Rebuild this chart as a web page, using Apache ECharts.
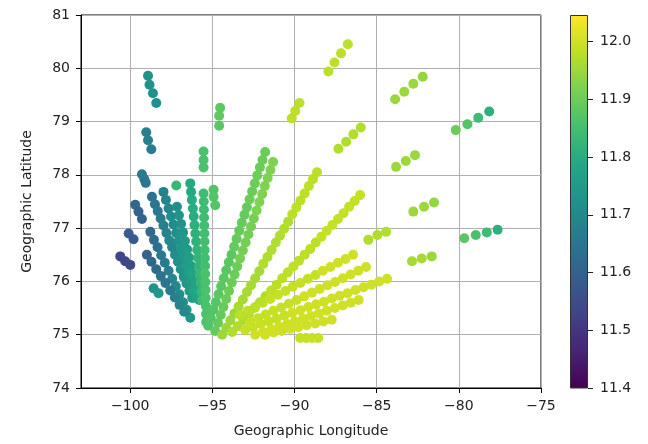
<!DOCTYPE html>
<html><head><meta charset="utf-8">
<script src="https://cdn.jsdelivr.net/npm/echarts@6/dist/echarts.min.js"></script>
<style>html,body{margin:0;padding:0;background:#fff}#c{width:648px;height:444px}</style>
</head><body><div id="c"></div>
<script>
// [longitude, latitude, value]
const beamA = [[-98.68,77.59,11.64],[-98.50,77.45,11.65],[-98.33,77.32,11.66],[-98.15,77.18,11.67],[-97.98,77.05,11.68],[-97.80,76.91,11.69],[-97.63,76.77,11.70],[-97.45,76.64,11.70],[-97.28,76.50,11.71],[-97.10,76.37,11.72],[-96.93,76.23,11.73],[-96.75,76.09,11.73],[-96.58,75.96,11.74],[-96.40,75.82,11.75],[-96.23,75.69,11.75]];
const beamB = [[-97.98,77.68,11.68],[-97.83,77.53,11.69],[-97.67,77.37,11.70],[-97.52,77.22,11.71],[-97.37,77.07,11.71],[-97.21,76.91,11.72],[-97.06,76.76,11.73],[-96.91,76.61,11.74],[-96.76,76.46,11.74],[-96.60,76.30,11.75],[-96.45,76.15,11.76],[-96.30,76.00,11.76],[-96.14,75.84,11.77],[-95.99,75.69,11.77]];
const beamC = [[-97.16,77.40,11.72],[-97.04,77.24,11.73],[-96.91,77.08,11.73],[-96.79,76.92,11.74],[-96.67,76.76,11.75],[-96.54,76.60,11.75],[-96.42,76.45,11.76],[-96.29,76.29,11.76],[-96.17,76.13,11.77],[-96.05,75.97,11.77],[-95.92,75.81,11.78],[-95.80,75.65,11.78]];
const beamD = [[-96.35,77.84,11.79],[-96.30,77.68,11.79],[-96.25,77.53,11.80],[-96.19,77.37,11.80],[-96.14,77.22,11.80],[-96.09,77.06,11.81],[-96.04,76.90,11.81],[-95.99,76.75,11.81],[-95.93,76.59,11.82],[-95.88,76.44,11.82],[-95.83,76.28,11.82],[-95.78,76.12,11.83],[-95.72,75.97,11.83],[-95.67,75.81,11.83],[-95.62,75.65,11.84]];
const beamE = [[-95.54,77.65,11.84],[-95.53,77.50,11.84],[-95.52,77.35,11.84],[-95.51,77.20,11.84],[-95.50,77.05,11.85],[-95.49,76.90,11.85],[-95.48,76.75,11.85],[-95.47,76.59,11.85],[-95.46,76.44,11.85],[-95.45,76.29,11.85],[-95.44,76.14,11.86],[-95.43,75.99,11.86],[-95.42,75.84,11.86],[-95.41,75.69,11.86],[-95.40,75.54,11.86],[-95.39,75.39,11.86],[-95.38,75.24,11.86]];
const beamF = [[-94.93,77.72,11.87],[-94.93,77.59,11.87],[-94.83,77.43,11.87]];
const beamG = [[-98.78,76.93,11.62],[-98.56,76.78,11.63],[-98.34,76.64,11.64],[-98.12,76.49,11.66],[-97.90,76.35,11.67],[-97.67,76.20,11.68],[-97.45,76.05,11.69],[-97.23,75.91,11.70],[-97.01,75.76,11.71],[-96.79,75.61,11.72],[-96.57,75.47,11.73],[-96.35,75.32,11.74]];
const beamH = [[-98.99,76.50,11.60],[-98.71,76.37,11.61],[-98.42,76.23,11.62],[-98.14,76.10,11.64],[-97.86,75.97,11.65],[-97.57,75.83,11.66],[-97.29,75.70,11.68],[-97.00,75.56,11.69],[-96.72,75.43,11.70]];
const beamR1a = [[-95.26,75.17,11.87],[-95.10,75.32,11.87],[-94.94,75.47,11.87],[-94.79,75.61,11.87],[-94.63,75.76,11.88],[-94.47,75.91,11.88],[-94.31,76.06,11.88],[-94.16,76.21,11.88],[-94.00,76.36,11.88],[-93.84,76.50,11.88],[-93.68,76.65,11.89],[-93.53,76.80,11.89],[-93.37,76.95,11.89],[-93.21,77.10,11.89],[-93.05,77.25,11.89],[-92.90,77.39,11.89],[-92.74,77.54,11.90],[-92.58,77.69,11.90],[-92.42,77.84,11.90],[-92.27,77.99,11.90],[-92.11,78.14,11.90],[-91.95,78.28,11.90],[-91.79,78.43,11.90]];
const beamR1b = [[-94.83,75.07,11.89],[-94.66,75.22,11.89],[-94.49,75.37,11.89],[-94.33,75.52,11.89],[-94.16,75.67,11.90],[-93.99,75.82,11.90],[-93.82,75.98,11.90],[-93.65,76.13,11.90],[-93.49,76.28,11.90],[-93.32,76.43,11.91],[-93.15,76.58,11.91],[-92.98,76.73,11.91],[-92.81,76.88,11.91],[-92.65,77.03,11.91],[-92.48,77.18,11.91],[-92.31,77.33,11.92],[-92.14,77.49,11.92],[-91.97,77.64,11.92],[-91.81,77.79,11.92],[-91.64,77.94,11.92],[-91.47,78.09,11.92],[-91.31,78.24,11.92]];
const beamR2 = [[-94.41,75.00,11.95],[-94.16,75.13,11.95],[-93.91,75.27,11.95],[-93.66,75.40,11.95],[-93.41,75.53,11.96],[-93.15,75.66,11.96],[-92.90,75.80,11.96],[-92.65,75.93,11.96],[-92.40,76.06,11.96],[-92.15,76.19,11.96],[-91.90,76.33,11.97],[-91.65,76.46,11.97],[-91.40,76.59,11.97],[-91.14,76.73,11.97],[-90.89,76.86,11.97],[-90.64,76.99,11.97],[-90.39,77.12,11.97],[-90.14,77.26,11.98],[-89.89,77.39,11.98],[-89.64,77.52,11.98],[-89.39,77.65,11.98],[-89.13,77.79,11.98],[-88.88,77.92,11.98],[-88.63,78.05,11.98]];
const beamR3 = [[-93.80,75.05,11.97],[-93.46,75.16,11.97],[-93.12,75.27,11.97],[-92.78,75.39,11.97],[-92.44,75.50,11.97],[-92.11,75.61,11.97],[-91.77,75.72,11.97],[-91.43,75.83,11.98],[-91.09,75.94,11.98],[-90.75,76.06,11.98],[-90.41,76.17,11.98],[-90.07,76.28,11.98],[-89.73,76.39,11.98],[-89.39,76.50,11.98],[-89.05,76.61,11.98],[-88.71,76.73,11.98],[-88.37,76.84,11.99],[-88.04,76.95,11.99],[-87.70,77.06,11.99],[-87.36,77.17,11.99],[-87.02,77.28,11.99],[-86.68,77.40,11.99],[-86.34,77.51,11.99],[-86.01,77.62,11.99]];
const beamR4 = [[-93.31,75.37,11.98],[-92.85,75.45,11.98],[-92.39,75.52,11.98],[-91.94,75.60,11.98],[-91.48,75.67,11.99],[-91.02,75.75,11.99],[-90.56,75.82,11.99],[-90.11,75.90,11.99],[-89.65,75.97,11.99],[-89.19,76.05,11.99],[-88.73,76.12,11.99],[-88.28,76.20,12.00],[-87.82,76.27,12.00],[-87.36,76.35,12.00],[-86.90,76.42,12.00],[-86.44,76.50,12.00]];
const beamR5 = [[-92.70,75.24,11.99],[-92.23,75.31,11.99],[-91.76,75.38,11.99],[-91.29,75.45,11.99],[-90.82,75.51,11.99],[-90.35,75.58,11.99],[-89.88,75.65,11.99],[-89.41,75.72,12.00],[-88.94,75.79,12.00],[-88.47,75.86,12.00],[-88.00,75.93,12.00],[-87.53,75.99,12.00],[-87.06,76.06,12.00],[-86.59,76.13,12.00],[-86.12,76.20,12.00],[-85.65,76.27,12.00]];
const beamR6 = [[-93.01,75.09,11.99],[-92.53,75.14,11.99],[-92.05,75.20,11.99],[-91.57,75.25,11.99],[-91.09,75.30,11.99],[-90.61,75.36,11.99],[-90.13,75.41,12.00],[-89.65,75.46,12.00],[-89.17,75.52,12.00],[-88.69,75.57,12.00],[-88.21,75.62,12.00],[-87.73,75.68,12.00],[-87.25,75.73,12.00],[-86.77,75.78,12.00],[-86.29,75.84,12.00],[-85.81,75.89,12.00],[-85.33,75.94,12.00],[-84.85,76.00,12.00],[-84.37,76.05,12.00]];
const beamR7 = [[-92.40,75.00,12.00],[-91.92,75.05,12.00],[-91.43,75.10,12.00],[-90.95,75.15,12.00],[-90.46,75.20,12.00],[-89.98,75.25,12.00],[-89.49,75.30,12.00],[-89.01,75.35,12.00],[-88.52,75.40,12.00],[-88.04,75.45,12.00],[-87.55,75.50,12.00],[-87.07,75.55,12.00],[-86.58,75.60,12.00],[-86.10,75.65,12.00]];
const beamR8 = [[-91.79,75.00,12.00],[-91.28,75.04,12.00],[-90.78,75.07,12.00],[-90.27,75.11,12.00],[-89.77,75.14,12.00],[-89.26,75.18,12.00],[-88.75,75.21,12.00],[-88.25,75.25,12.00],[-87.74,75.28,12.00]];
const beamR9 = [[-89.66,74.94,11.99],[-89.29,74.94,11.99],[-88.93,74.94,11.99],[-88.56,74.94,11.99]];
const groupsFar = [
  [-87.94,79.94,11.98],[-87.57,80.11,11.98],[-87.17,80.28,11.98],[-86.76,80.45,11.98],
  [-83.88,79.42,11.95],[-83.32,79.56,11.95],[-82.77,79.71,11.95],[-82.20,79.84,11.94],
  [-80.19,78.84,11.90],[-79.48,78.95,11.87],[-78.82,79.07,11.84],[-78.15,79.19,11.81],
  [-87.33,78.49,11.97],[-86.86,78.62,11.97],[-86.42,78.76,11.97],[-85.97,78.89,11.97],
  [-83.82,78.15,11.95],[-83.23,78.26,11.95],[-82.67,78.37,11.95],
  [-90.17,79.06,11.98],[-89.96,79.20,11.98],[-89.70,79.35,11.98],
  [-82.77,77.31,11.95],[-82.12,77.40,11.95],[-81.51,77.48,11.94],
  [-79.67,76.81,11.88],[-78.97,76.87,11.86],[-78.30,76.92,11.84],[-77.64,76.97,11.81],
  [-82.85,76.38,11.96],[-82.26,76.43,11.96],[-81.65,76.47,11.95],
  [-85.51,76.78,11.97],[-84.96,76.87,11.97],[-84.43,76.93,11.97]
];
const groupsLeft = [
  [-98.92,79.86,11.73],[-98.83,79.69,11.73],[-98.62,79.53,11.72],[-98.42,79.35,11.72],
  [-99.03,78.80,11.68],[-98.92,78.65,11.68],[-98.72,78.48,11.67],
  [-99.29,78.01,11.66],[-99.15,77.92,11.66],[-99.06,77.85,11.65],
  [-99.70,77.44,11.62],[-99.50,77.31,11.61],[-99.29,77.17,11.61],
  [-100.10,76.90,11.59],[-99.80,76.79,11.58],
  [-100.61,76.47,11.53],[-100.31,76.38,11.53],[-100.00,76.31,11.54],
  [-94.53,79.26,11.885],[-94.59,79.11,11.885],[-94.59,78.92,11.88],
  [-95.54,78.44,11.86],[-95.54,78.28,11.86],[-95.54,78.14,11.86],
  [-97.20,77.80,11.83],
  [-98.58,75.87,11.73],[-98.28,75.78,11.74]
];
const xTicks = [-100,-95,-90,-85,-80,-75];
const cbTicks = [11.4,11.5,11.6,11.7,11.8,11.9,12.0];
const cMin = 11.4, cMax = 12.046;
const viridis = ['#440154','#482475','#414487','#355f8d','#2a788e','#21918c','#22a884','#44bf70','#7ad151','#bddf26','#fde725'];

const allPoints = [].concat(beamA,beamB,beamC,beamD,beamE,beamF,beamG,beamH,beamR1a,beamR1b,beamR2,beamR3,beamR4,beamR5,beamR6,beamR7,beamR8,beamR9,groupsFar,groupsLeft);

const font = 'DejaVu Sans';
const minus = v => String(v).replace('-', '\u2212');
const chart = echarts.init(document.getElementById('c'), null, {renderer:'canvas'});
chart.setOption({
  animation:false,
  textStyle:{fontFamily:font},
  grid:[
    {left:81, right:107, top:15, bottom:56, show:true, borderColor:'#000', borderWidth:1, backgroundColor:'transparent'},
    {left:570, width:18, top:15, bottom:56}
  ],
  visualMap:{type:'continuous', show:false, seriesIndex:0, dimension:2, min:cMin, max:cMax, inRange:{color:viridis}},
  xAxis:[
    {type:'value', gridIndex:0, min:-103, max:-75,
     name:'Geographic Longitude', nameLocation:'middle', nameGap:36,
     nameTextStyle:{fontFamily:font, fontSize:14, color:'#222'},
     axisLine:{show:true, onZero:false, lineStyle:{color:'#000', width:1}},
     axisTick:{show:true, length:5, customValues:xTicks, lineStyle:{color:'#000'}},
     axisLabel:{customValues:xTicks, fontFamily:font, fontSize:14, color:'#222', margin:11, formatter:minus},
     splitLine:{show:true, lineStyle:{color:'#b0b0b0', width:1}}},
    {type:'category', gridIndex:1, data:['c'], show:false}
  ],
  yAxis:[
    {type:'value', gridIndex:0, min:74, max:81, interval:1,
     name:'Geographic Latitude', nameLocation:'middle', nameGap:47, nameRotate:90,
     nameTextStyle:{fontFamily:font, fontSize:14, color:'#222'},
     axisLine:{show:true, onZero:false, lineStyle:{color:'#000', width:1}},
     axisTick:{show:true, length:5, lineStyle:{color:'#000'}},
     axisLabel:{fontFamily:font, fontSize:14, color:'#222', margin:11},
     splitLine:{show:true, lineStyle:{color:'#b0b0b0', width:1}}},
    {type:'value', gridIndex:1, min:cMin, max:cMax, position:'right',
     axisLine:{show:false},
     axisTick:{show:true, length:5, customValues:cbTicks, lineStyle:{color:'#222'}},
     axisLabel:{customValues:cbTicks, fontFamily:font, fontSize:14, color:'#222', margin:12, formatter:v=>v.toFixed(1)},
     splitLine:{show:false}}
  ],
  series:[
    {type:'scatter', xAxisIndex:0, yAxisIndex:0, symbolSize:10, data:allPoints, itemStyle:{opacity:1}},
    {type:'bar', xAxisIndex:1, yAxisIndex:1, barWidth:'100%', data:[cMax], silent:true,
     itemStyle:{borderColor:'#333', borderWidth:1,
       color:new echarts.graphic.LinearGradient(0,1,0,0, viridis.map((c,i)=>({offset:i/(viridis.length-1), color:c})))}}
  ]
});
</script></body></html>
